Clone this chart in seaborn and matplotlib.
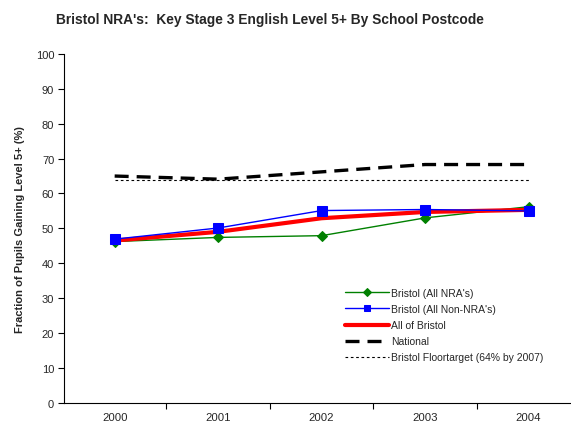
import matplotlib
matplotlib.use("Agg")
import matplotlib.pyplot as plt
import seaborn as sns
import pandas as pd

years = ["2000", "2001", "2002", "2003", "2004"]
nra = [46.2, 47.4, 47.9, 53.0, 56.2]
non_nra = [46.9, 50.1, 55.1, 55.4, 55.0]
all_bristol = [46.5, 49.0, 52.9, 54.7, 55.3]
national = [65.0, 64.1, 66.2, 68.3, 68.3]
floortarget = [63.9, 63.9, 63.9, 63.9, 63.9]

sns.set_theme(style="white")
plt.rcParams["font.family"] = ["Liberation Sans", "DejaVu Sans"]

df = pd.DataFrame({"pos": list(range(len(years))), "nra": nra, "non": non_nra,
                   "all": all_bristol, "nat": national, "floor": floortarget})

fig = plt.figure(figsize=(5.71, 4.27), dpi=100)
ax = fig.add_axes([0.112, 0.0546, 0.888, 0.8166])

sns.lineplot(data=df, x="pos", y="floor", ax=ax, color="black", lw=0.8,
             linestyle=(0, (2.4, 2.4)), label="Bristol Floortarget (64% by 2007)", zorder=2)
sns.lineplot(data=df, x="pos", y="nat", ax=ax, color="black", lw=2.4,
             linestyle=(0, (4.2, 2.4)), label="National", zorder=2)
sns.lineplot(data=df, x="pos", y="nra", ax=ax, color="#008000", lw=1.0,
             marker="D", markersize=5.5, markeredgecolor="#008000",
             label="Bristol (All NRA's)", zorder=3)
sns.lineplot(data=df, x="pos", y="all", ax=ax, color="#ff0000", lw=3.0,
             label="All of Bristol", zorder=4)
sns.lineplot(data=df, x="pos", y="non", ax=ax, color="#0000ff", lw=1.0,
             marker="s", markersize=6.5, markeredgecolor="#0000ff",
             label="Bristol (All Non-NRA's)", zorder=5)

ax.set_yticks(range(0, 101, 10))
ax.set_xticks(range(len(years)))
ax.set_xticklabels(years)
ax.set_xticks([i - 0.5 for i in range(len(years))], minor=True)
ax.set_ylim(0, 100)
ax.set_xlim(-0.49, 4.41)
ax.tick_params(axis="x", which="major", length=0, labelsize=8.2, pad=7)
ax.tick_params(axis="x", which="minor", length=4, width=0.8, direction="out", color="black", bottom=True)
ax.tick_params(axis="y", which="major", length=4, width=0.8, direction="out", color="black", labelsize=8, left=True, pad=3)
ax.set_xlabel("")
ax.set_ylabel("Fraction of Pupils Gaining Level 5+ (%)", fontsize=8, fontweight="bold", labelpad=8)
for s in ["top", "right"]:
    ax.spines[s].set_visible(False)
for s in ["left", "bottom"]:
    ax.spines[s].set_color("black")
    ax.spines[s].set_linewidth(0.8)

fig.text(0.472, 0.953, "Bristol NRA's:  Key Stage 3 English Level 5+ By School Postcode",
         ha="center", va="center", fontsize=9.9, fontweight="bold")

h, l = ax.get_legend_handles_labels()
order = ["Bristol (All NRA's)", "Bristol (All Non-NRA's)", "All of Bristol",
         "National", "Bristol Floortarget (64% by 2007)"]
hd = dict(zip(l, h))
ax.legend([hd[k] for k in order], order, loc="lower left",
          bbox_to_anchor=(0.54, 0.095), frameon=False, fontsize=7.5,
          handlelength=4.2, handletextpad=0.2, labelspacing=0.58, borderpad=0.2,
          markerscale=0.75)

fig.savefig("out.png", dpi=100)
